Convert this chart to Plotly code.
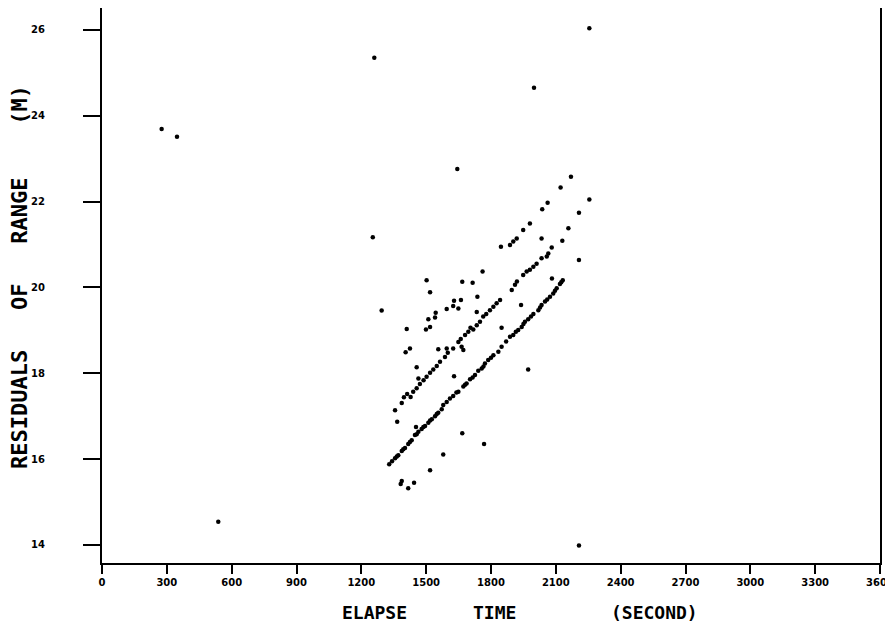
import plotly.graph_objects as go

# Outliers
outlier_x = [276, 347, 538, 1253, 1294, 1260, 2255, 1999, 1644, 2207]
outlier_y = [23.69, 23.51, 14.54, 21.17, 19.46, 25.35, 26.04, 24.65, 22.76, 13.99]

# Lower (dense) band
lower_x = [1329, 1356, 1371, 1387, 1402, 1417, 1433, 1448, 1464, 1479, 1495, 1510, 1526,
           1541, 1556, 1572, 1579, 1610, 1625, 1649, 1672, 1687, 1703, 1726, 1741, 1757,
           1772, 1787, 1811, 1834, 1849, 1888, 1903, 1926, 1942, 1957, 1972, 1996, 2019,
           2034, 2050, 2073, 2088, 2104, 2119, 2132, 2207,
           1342, 1364, 1394, 1425, 1456, 1487, 1518, 1549, 1595, 1640, 1680, 1715, 1765,
           1800, 1870, 1915, 1950, 1985, 2027, 2060, 2096, 2125]
lower_y = [15.88, 16.02, 16.09, 16.19, 16.26, 16.35, 16.44, 16.56, 16.64, 16.70, 16.77, 16.85,
           16.93, 17.00, 17.08, 17.16, 17.26, 17.41, 17.47, 17.57, 17.69, 17.76, 17.86, 17.96,
           18.06, 18.11, 18.23, 18.31, 18.42, 18.50, 18.62, 18.85, 18.89, 19.01, 19.08, 19.20,
           19.26, 19.38, 19.47, 19.59, 19.67, 19.78, 19.86, 19.98, 20.08, 20.17, 20.64,
           15.95, 16.06, 16.23, 16.40, 16.58, 16.75, 16.90, 17.05, 17.33, 17.55, 17.73, 17.90,
           18.16, 18.36, 18.74, 18.97, 19.15, 19.32, 19.53, 19.72, 19.92, 20.12]

# Middle band
mid_x = [1356, 1387, 1397, 1428, 1440, 1456, 1471, 1502, 1518, 1533, 1549, 1564, 1587,
         1649, 1680, 1695, 1718, 1734, 1749, 1764, 1795, 1811, 1826, 1842, 1896, 1911,
         1949, 1965, 1980, 1996, 2011, 2034, 2058, 2065, 2081, 2130, 2158, 2207, 2255,
         1412, 1488, 1600, 1660, 1705, 1778, 1920]
mid_y = [17.14, 17.31, 17.44, 17.45, 17.57, 17.65, 17.75, 17.92, 18.01, 18.09, 18.17, 18.27,
         18.38, 18.73, 18.89, 18.97, 19.02, 19.12, 19.20, 19.32, 19.47, 19.55, 19.63, 19.71,
         19.94, 20.06, 20.29, 20.37, 20.41, 20.48, 20.55, 20.68, 20.72, 20.79, 20.93, 21.09,
         21.38, 21.74, 22.05,
         17.52, 17.84, 18.48, 18.80, 19.06, 19.38, 20.14]

# Upper sparse band
upper_x = [1410, 1405, 1425, 1502, 1518, 1499, 1510, 1518, 1541, 1544, 1595, 1625, 1629,
           1649, 1661, 1667, 1715, 1737, 1761, 1846, 1888, 1903, 1919, 1949, 1980, 2034,
           2037, 2062, 2122, 2170]
upper_y = [19.03, 18.49, 18.58, 20.17, 19.89, 19.02, 19.26, 19.08, 19.30, 19.41, 19.50, 19.57,
           19.69, 19.51, 19.71, 20.13, 20.11, 19.78, 20.37, 20.95, 20.99, 21.07, 21.14, 21.34,
           21.49, 21.14, 21.82, 21.97, 22.33, 22.58]

# Scattered points between / below the bands
scatter_x = [1939, 1849, 1734, 1556, 1595, 1625, 1664, 1672, 1629, 2082, 1972, 1366, 1453,
             1667, 1768, 1579, 1518, 1387, 1382, 1417, 1444, 1456, 1464]
scatter_y = [19.59, 19.06, 19.43, 18.56, 18.58, 18.58, 18.62, 18.54, 17.93, 20.21, 18.09, 16.87,
             16.75, 16.60, 16.35, 16.11, 15.74, 15.49, 15.42, 15.32, 15.45, 18.14, 17.88]

x_ticks = [0, 300, 600, 900, 1200, 1500, 1800, 2100, 2400, 2700, 3000, 3300, 3600]
y_ticks = [14, 16, 18, 20, 22, 24, 26]

fig = go.Figure()
for xs, ys in [(outlier_x, outlier_y), (lower_x, lower_y), (mid_x, mid_y),
               (upper_x, upper_y), (scatter_x, scatter_y)]:
    fig.add_trace(go.Scatter(x=xs, y=ys, mode="markers",
                             marker=dict(color="black", size=4.5, line=dict(width=0)),
                             showlegend=False, hoverinfo="skip", cliponaxis=False))

tickfont = dict(family="DejaVu Sans", size=10, color="black", weight="bold")
fig.update_layout(
    width=893, height=639,
    margin=dict(l=94, r=21, t=0, b=84, autoexpand=False),
    paper_bgcolor="white", plot_bgcolor="white",
    xaxis=dict(range=[0, 3600], tickvals=x_ticks, ticktext=[str(v) for v in x_ticks],
               showgrid=False, zeroline=False, showline=True, linecolor="black", linewidth=2,
               mirror=True, ticks="outside", ticklen=9, tickwidth=2, tickcolor="black",
               tickfont=tickfont, automargin=False),
    yaxis=dict(range=[13.58, 26.51], tickvals=y_ticks, showticklabels=False,
               showgrid=False, zeroline=False, showline=True, linecolor="black", linewidth=2,
               mirror=True, ticks="outside", ticklen=17, tickwidth=2, tickcolor="black",
               automargin=False),
)

W = 778.0
H = 555.0
# y tick labels placed well left of the tick marks, as in the reference
for v in y_ticks:
    fig.add_annotation(text=str(v), xref="paper", yref="y", x=(38 - 102) / W, y=v,
                       showarrow=False, font=tickfont, xanchor="center", yanchor="middle")

titlefont = dict(family="DejaVu Sans Mono", size=18, color="black", weight="bold")
for txt, px in [("ELAPSE", 374), ("TIME", 494), ("(SECOND)", 654)]:
    fig.add_annotation(text=txt, xref="paper", yref="paper", x=(px - 102) / W,
                       y=-(612 - 563) / H, showarrow=False, font=titlefont,
                       xanchor="center", yanchor="middle")
fig.add_annotation(text="RESIDUALS   OF   RANGE    (M)", xref="paper", yref="paper",
                   x=(19 - 102) / W, y=(563 - 277) / H, textangle=-90, showarrow=False,
                   font=dict(family="DejaVu Sans Mono", size=22, color="black", weight="bold"),
                   xanchor="center", yanchor="middle")

fig.write_html("out.html")
